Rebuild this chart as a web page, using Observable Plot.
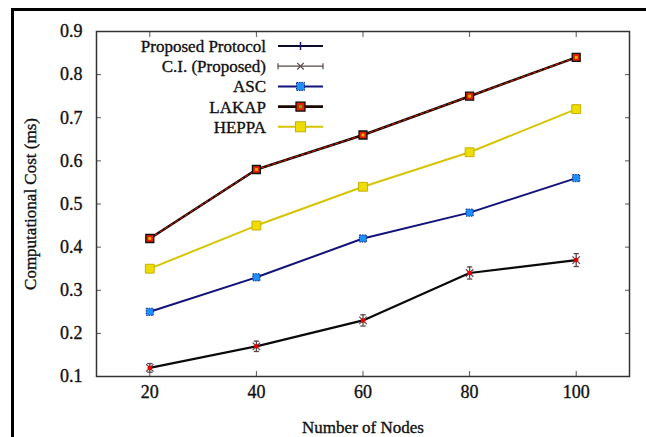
<!DOCTYPE html>
<html><head><meta charset="utf-8">
<script src="https://cdn.jsdelivr.net/npm/d3@7"></script>
<script src="https://cdn.jsdelivr.net/npm/@observablehq/plot@0.6"></script>
<style>
html,body{margin:0;padding:0;background:#fff;overflow:hidden;}
#wrap{position:relative;width:646px;height:437px;overflow:hidden;background:#fff;}
#chart{position:absolute;left:0;top:0;}
#border{position:absolute;left:11px;top:8px;width:700px;height:500px;border:3px solid #000;box-sizing:border-box;pointer-events:none;}
#legend{position:absolute;left:0;top:0;}
#wrap svg text{stroke:#111;stroke-width:0.35px;}
</style></head><body>
<div id="wrap"><div id="chart"></div><div id="border"></div><svg id="legend" width="646" height="437"></svg></div>
<script>
// ---- data ----
const nodes = [20, 40, 60, 80, 100];
const proposed = [0.12, 0.17, 0.23, 0.34, 0.37];
const proposedErr = [0.010, 0.012, 0.013, 0.014, 0.015];
const asc = [0.25, 0.33, 0.42, 0.48, 0.56];
const lakap = [0.42, 0.58, 0.66, 0.75, 0.84];
const heppa = [0.35, 0.45, 0.54, 0.62, 0.72];
const xTicks = [20, 40, 60, 80, 100];
const yTicks = [0.1, 0.2, 0.3, 0.4, 0.5, 0.6, 0.7, 0.8, 0.9];
const seriesNames = ["Proposed Protocol", "C.I. (Proposed)", "ASC", "LAKAP", "HEPPA"];
const xLabel = "Number of Nodes";
const yLabel = "Computational Cost (ms)";

const rows = nodes.map((n, i) => ({n, p: proposed[i], lo: proposed[i] - proposedErr[i], hi: proposed[i] + proposedErr[i], asc: asc[i], lakap: lakap[i], heppa: heppa[i]}));

const FONT = "'Liberation Serif', 'Times New Roman', serif";
const C = {prop: "#0b0b2a", ci: "#5a4646", ascLine: "#12127a", ascFill: "#1e8fff", lakapLine: "#1a0500", lakapRed: "#e02000", heppa: "#d6c400", heppaFill: "#eedd00"};

const plot = Plot.plot({
  width: 646, height: 437,
  marginLeft: 96, marginTop: 31, marginRight: 17, marginBottom: 61,
  style: {fontFamily: FONT, fontSize: "16px", color: "#111", background: "transparent"},
  x: {domain: [10, 110]},
  y: {domain: [0.1, 0.9]},
  marks: [
    Plot.axisX(xTicks, {anchor: "bottom", tickSize: -5, tickPadding: 14, stroke: "#555", fontSize: 18, fontFamily: FONT, label: null}),
    Plot.axisX(xTicks, {anchor: "top", tickSize: -5, tickFormat: () => "", stroke: "#555", label: null}),
    Plot.axisY(yTicks, {anchor: "left", tickSize: -5, tickPadding: 19, stroke: "#555", fontSize: 18, fontFamily: FONT, tickFormat: d3.format(".1f"), label: null}),
    Plot.axisY(yTicks, {anchor: "right", tickSize: -5, tickFormat: () => "", stroke: "#555", label: null}),
    Plot.frame({stroke: "#333", strokeWidth: 1.5}),
    // axis titles
    Plot.text([xLabel], {frameAnchor: "bottom", textAnchor: "middle", lineAnchor: "middle", dy: 51, text: d => d, fontSize: 17, fontFamily: FONT, fill: "#111"}),
    Plot.text([yLabel], {frameAnchor: "left", textAnchor: "middle", lineAnchor: "middle", dx: -66, rotate: -90, text: d => d, fontSize: 17, fontFamily: FONT, fill: "#111"}),
    // HEPPA
    Plot.line(rows, {x: "n", y: "heppa", stroke: C.heppa, strokeWidth: 2}),
    Plot.dot(rows, {x: "n", y: "heppa", symbol: "square", r: 5, fill: C.heppaFill, stroke: "#c8b000", strokeWidth: 1}),
    // LAKAP
    Plot.line(rows, {x: "n", y: "lakap", stroke: C.lakapLine, strokeWidth: 2.6}),
    Plot.line(rows, {x: "n", y: "lakap", stroke: C.lakapRed, strokeWidth: 1, strokeDasharray: "3,3"}),
    Plot.dot(rows, {x: "n", y: "lakap", symbol: "square", r: 4.5, fill: C.lakapRed, stroke: "#111", strokeWidth: 1.3}),
    Plot.dot(rows, {x: "n", y: "lakap", symbol: "square", r: 1.6, fill: "#f3b000"}),
    // ASC
    Plot.line(rows, {x: "n", y: "asc", stroke: C.ascLine, strokeWidth: 2}),
    Plot.dot(rows, {x: "n", y: "asc", symbol: "square", r: 4, fill: C.ascFill, stroke: "#0a2a80", strokeWidth: 1, strokeDasharray: "1.5,1"}),
    // Proposed
    Plot.line(rows, {x: "n", y: "p", stroke: "#0a0a0a", strokeWidth: 2.2}),
    Plot.ruleX(rows, {x: "n", y1: "lo", y2: "hi", stroke: C.ci, strokeWidth: 1.3}),
    Plot.link(rows, {x1: d => d.n - 0.5, x2: d => d.n + 0.5, y1: "lo", y2: "lo", stroke: C.ci, strokeWidth: 1.3}),
    Plot.link(rows, {x1: d => d.n - 0.5, x2: d => d.n + 0.5, y1: "hi", y2: "hi", stroke: C.ci, strokeWidth: 1.3}),
    Plot.dot(rows, {x: "n", y: "p", symbol: "times", r: 3.5, stroke: C.ci, strokeWidth: 1.2}),
    Plot.dot(rows, {x: "n", y: "p", r: 2.3, fill: "#e80000"})
  ]
});
document.getElementById("chart").appendChild(plot);

// ---- legend ----
const lg = d3.select("#legend");
const textX = 266, x0 = 278, x1 = 323, xm = 300.5, rowY0 = 46, rowDy = 20.2;
seriesNames.forEach((name, i) => {
  const y = rowY0 + i * rowDy;
  lg.append("text").attr("x", textX).attr("y", y).attr("dy", "0.35em").attr("text-anchor", "end")
    .attr("font-family", FONT).attr("font-size", 17).attr("fill", "#111").text(name);
  const g = lg.append("g");
  if (i === 0) {
    g.append("line").attr("x1", x0).attr("x2", x1).attr("y1", y).attr("y2", y).attr("stroke", C.prop).attr("stroke-width", 2.2);
    g.append("line").attr("x1", xm).attr("x2", xm).attr("y1", y - 4).attr("y2", y + 4).attr("stroke", "#1a1a7a").attr("stroke-width", 1.5);
  } else if (i === 1) {
    g.append("line").attr("x1", x0).attr("x2", x1).attr("y1", y).attr("y2", y).attr("stroke", C.ci).attr("stroke-width", 1.2);
    [x0, x1].forEach(x => g.append("line").attr("x1", x).attr("x2", x).attr("y1", y - 3).attr("y2", y + 3).attr("stroke", C.ci).attr("stroke-width", 1.2));
    g.append("path").attr("d", d3.symbol(d3.symbolTimes, 30)()).attr("transform", `translate(${xm},${y})`).attr("fill", "none").attr("stroke", C.ci).attr("stroke-width", 1.1);
  } else if (i === 2) {
    g.append("line").attr("x1", x0).attr("x2", x1).attr("y1", y).attr("y2", y).attr("stroke", C.ascLine).attr("stroke-width", 2);
    g.append("rect").attr("x", xm - 4).attr("y", y - 4).attr("width", 8).attr("height", 8).attr("fill", C.ascFill).attr("stroke", "#0a2a80").attr("stroke-dasharray", "1.5,1");
  } else if (i === 3) {
    g.append("line").attr("x1", x0).attr("x2", x1).attr("y1", y).attr("y2", y).attr("stroke", C.lakapLine).attr("stroke-width", 2.6);
    g.append("rect").attr("x", xm - 4.5).attr("y", y - 4.5).attr("width", 9).attr("height", 9).attr("fill", C.lakapRed).attr("stroke", "#111").attr("stroke-width", 1.3);
    g.append("rect").attr("x", xm - 1.6).attr("y", y - 1.6).attr("width", 3.2).attr("height", 3.2).attr("fill", "#6bb000");
  } else {
    g.append("line").attr("x1", x0).attr("x2", x1).attr("y1", y).attr("y2", y).attr("stroke", C.heppa).attr("stroke-width", 2);
    g.append("rect").attr("x", xm - 5).attr("y", y - 5).attr("width", 10).attr("height", 10).attr("fill", C.heppaFill).attr("stroke", "#c8b000");
  }
});
</script>
</body></html>
